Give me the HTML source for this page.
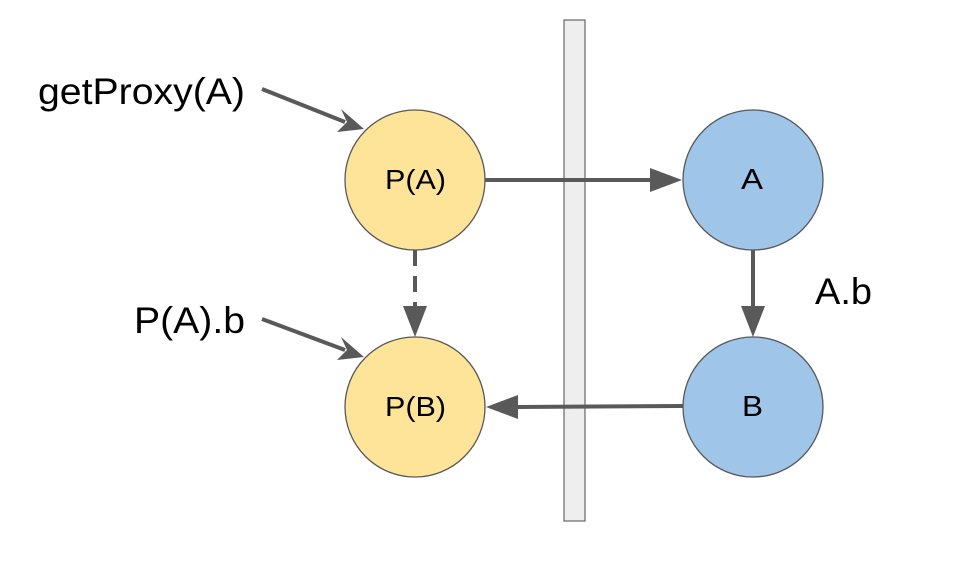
<!DOCTYPE html>
<html><head><style>body{margin:0;background:#fff}svg{display:block}</style></head><body>
<svg width="954" height="564" xmlns="http://www.w3.org/2000/svg" font-family="Liberation Sans, Arial, sans-serif">
<rect x="564" y="20" width="21" height="501" fill="#eeeeee" stroke="#666" stroke-width="1.2"/>
<g stroke="#595959" stroke-width="4" fill="none">
<line x1="485" y1="180" x2="652" y2="180"/>
<line x1="753" y1="250" x2="753" y2="310"/>
<line x1="683" y1="406" x2="516" y2="407"/>
<line x1="415" y1="250" x2="415" y2="312" stroke-dasharray="16,10"/>
<line x1="262" y1="89" x2="345" y2="122"/>
<line x1="262" y1="319" x2="345" y2="350"/>
</g>
<g fill="#595959">
<polygon points="682,180 650,168 650,192"/>
<polygon points="753,337 741,306 765,306"/>
<polygon points="486,407 518,395 518,419"/>
<polygon points="415,337 403,306 427,306"/>
<polygon points="364,129 341,109 347,122 337,132"/>
<polygon points="364,357 341,337 347,350 337,360"/>
</g>
<g stroke="#595959" stroke-width="1.3">
<circle cx="415" cy="180" r="70" fill="#fee499"/>
<circle cx="415" cy="407" r="70" fill="#fee499"/>
<circle cx="753" cy="180" r="70" fill="#9fc5e8"/>
<circle cx="753" cy="407" r="70" fill="#9fc5e8"/>
</g>
<g fill="#000">
<text x="385" y="189" font-size="28" textLength="61" lengthAdjust="spacingAndGlyphs">P(A)</text>
<text x="385" y="416" font-size="28" textLength="61" lengthAdjust="spacingAndGlyphs">P(B)</text>
<text x="741" y="189" font-size="29" textLength="22" lengthAdjust="spacingAndGlyphs">A</text>
<text x="742" y="416" font-size="29" textLength="21" lengthAdjust="spacingAndGlyphs">B</text>
</g>
<g font-size="37" fill="#000">
<text x="38" y="104" textLength="207" lengthAdjust="spacingAndGlyphs">getProxy(A)</text>
<text x="134" y="333" textLength="111" lengthAdjust="spacingAndGlyphs">P(A).b</text>
<text x="815" y="304" textLength="57" lengthAdjust="spacingAndGlyphs">A.b</text>
</g>
</svg>
</body></html>
